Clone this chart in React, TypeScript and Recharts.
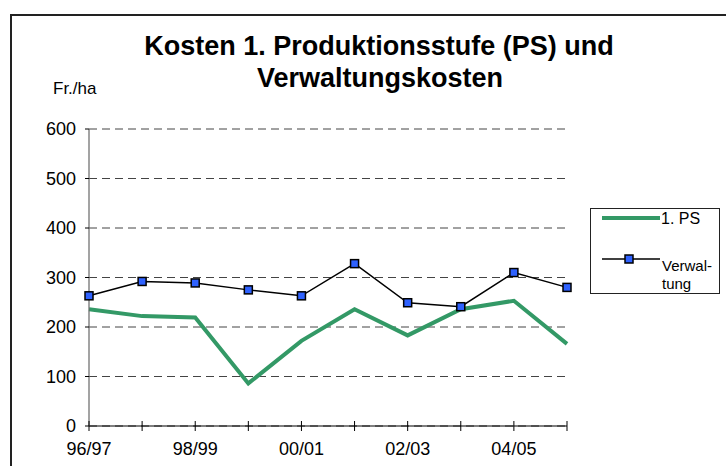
import { LineChart, Line, XAxis, YAxis, CartesianGrid, Legend } from 'recharts';

const years = ['96/97', '97/98', '98/99', '99/00', '00/01', '01/02', '02/03', '03/04', '04/05', '05/06'];
const produktion = [236, 222, 219, 86, 172, 236, 183, 236, 253, 166];
const verwaltung = [263, 292, 289, 275, 263, 328, 249, 241, 310, 280];
const yTicks = [0, 100, 200, 300, 400, 500, 600];

const FONT = '"Liberation Sans", Arial, sans-serif';
const GREEN = '#339966';
const BLUE = '#2f62ff';

const chartData = years.map((year, i) => ({
  year,
  ps: produktion[i],
  verwaltung: verwaltung[i],
}));

// x ticks cross the axis, label only every second year
const XTick = (props: any) => {
  const { x, y, payload } = props;
  const idx = years.indexOf(payload.value);
  const axisY = y - 5;
  return (
    <g>
      <line x1={x} x2={x} y1={axisY - 5} y2={axisY + 5} stroke="#000" strokeWidth={1} />
      {idx % 2 === 0 && (
        <text x={x} y={axisY + 29} textAnchor="middle" fontSize={18} fill="#000" fontFamily={FONT}>
          {payload.value}
        </text>
      )}
    </g>
  );
};

const SquareDot = (props: any) => {
  const { cx, cy } = props;
  if (cx == null || cy == null) return null;
  return <rect x={cx - 4} y={cy - 4} width={8} height={8} fill={BLUE} stroke="#000" strokeWidth={1.5} />;
};

const LegendBox = () => (
  <div style={{ width: 130, height: 86, border: '1.5px solid #222', background: '#fff', boxSizing: 'border-box' }}>
    <svg width={128} height={84} style={{ display: 'block' }}>
      <line x1={11} x2={69} y1={9} y2={9} stroke={GREEN} strokeWidth={4} />
      <text x={70} y={15} fontSize={16} fontFamily={FONT} fill="#000">1. PS</text>
      <line x1={11} x2={69} y1={50} y2={50} stroke="#000" strokeWidth={1.5} />
      <rect x={34} y={46} width={8} height={8} fill={BLUE} stroke="#000" strokeWidth={1.5} />
      <text x={71} y={62} fontSize={15} fontFamily={FONT} fill="#000">Verwal-</text>
      <text x={71} y={80} fontSize={15} fontFamily={FONT} fill="#000">tung</text>
    </svg>
  </div>
);

export default function App() {
  return (
    <div style={{ position: 'absolute', left: 0, top: 0, width: 726, height: 466, overflow: 'hidden', background: '#fff', fontFamily: FONT }}>
      <div style={{ position: 'absolute', left: 10, top: 14, width: 800, height: 600, borderTop: '2px solid #222', borderLeft: '2px solid #222' }} />
      <LineChart
        width={726}
        height={466}
        data={chartData}
        margin={{ top: 129, right: 159, bottom: 0, left: 29 }}
        style={{ position: 'absolute', left: 0, top: 0 }}
      >
        <CartesianGrid vertical={false} stroke="#444" strokeDasharray="8 5" />
        <XAxis
          dataKey="year"
          height={40}
          interval={0}
          tickLine={false}
          tickSize={5}
          tickMargin={0}
          axisLine={{ stroke: '#000', strokeWidth: 1.2 }}
          tick={<XTick />}
        />
        <YAxis
          width={60}
          domain={[0, 600]}
          ticks={yTicks}
          tickSize={4}
          tickMargin={9}
          axisLine={{ stroke: '#666', strokeWidth: 1.2 }}
          tickLine={{ stroke: '#000' }}
          tick={{ fontSize: 18, fill: '#000', fontFamily: FONT }}
        />
        <Legend
          layout="vertical"
          align="center"
          verticalAlign="middle"
          wrapperStyle={{ left: 590, top: 208, width: 130 }}
          content={() => <LegendBox />}
        />
        <Line
          type="linear"
          dataKey="ps"
          name="1. PS"
          stroke={GREEN}
          strokeWidth={4}
          dot={false}
          isAnimationActive={false}
        />
        <Line
          type="linear"
          dataKey="verwaltung"
          name="Verwaltung"
          stroke="#000"
          strokeWidth={1.5}
          dot={<SquareDot />}
          isAnimationActive={false}
        />
      </LineChart>
      <svg width={726} height={110} style={{ position: 'absolute', left: 0, top: 0, pointerEvents: 'none' }}>
        <text x={379} y={55} textAnchor="middle" fontSize={27} fontWeight="bold" fontFamily={FONT} fill="#000">
          Kosten 1. Produktionsstufe (PS) und
        </text>
        <text x={380} y={87} textAnchor="middle" fontSize={27} fontWeight="bold" fontFamily={FONT} fill="#000">
          Verwaltungskosten
        </text>
        <text x={53} y={94} fontSize={17} fontFamily={FONT} fill="#000">
          Fr./ha
        </text>
      </svg>
    </div>
  );
}
